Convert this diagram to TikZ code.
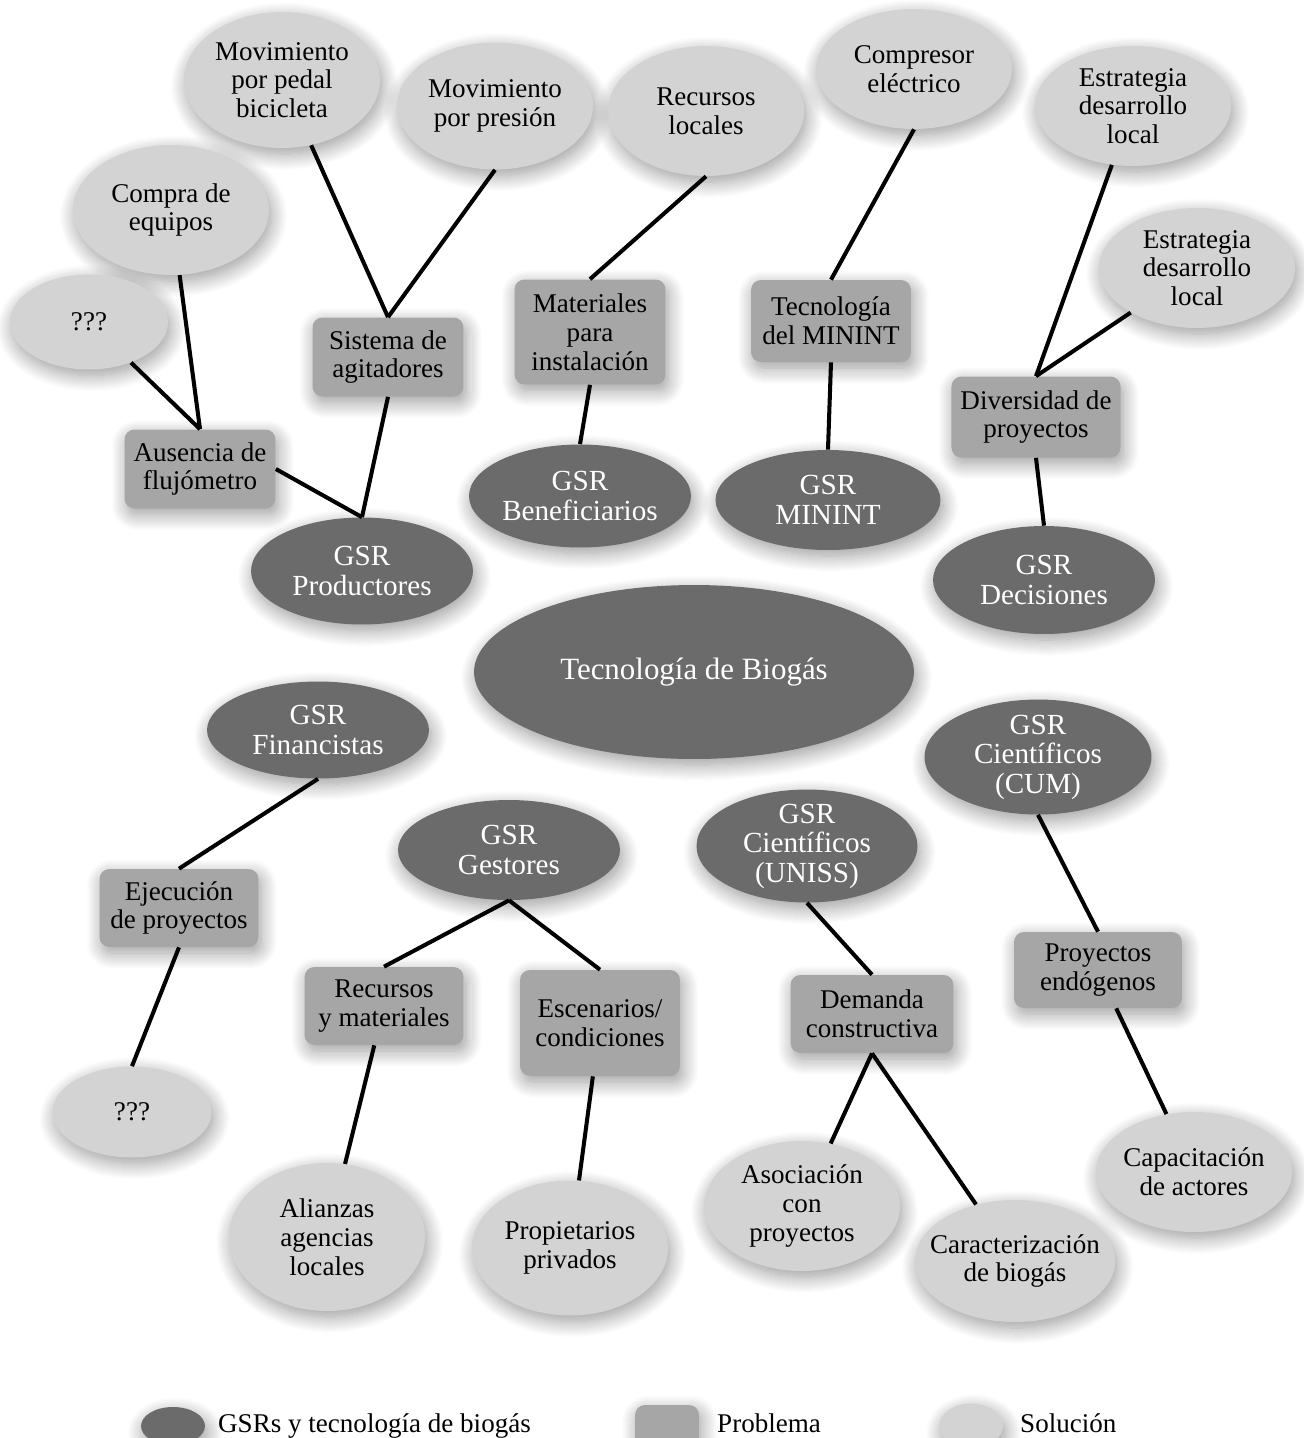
\documentclass[tikz,border=0pt]{standalone}
\usepackage{fontspec}
\setmainfont{Liberation Serif}
\usetikzlibrary{shapes.geometric,shadows.blur}
\definecolor{gsrgray}{HTML}{6B6B6B}
\definecolor{probgray}{HTML}{A6A6A6}
\definecolor{solgray}{HTML}{D3D3D3}
\begin{document}
\begin{tikzpicture}[x=0.02cm,y=-0.02cm]
\useasboundingbox (0,0) rectangle (1303,1438);
\tikzstyle{every node}=[font=\fontsize{15.4}{16.4}\selectfont, align=center];
\tikzstyle{soft}=[blur shadow={shadow xshift=1.5pt, shadow yshift=-3.5pt, shadow blur radius=9pt, shadow blur steps=16, shadow opacity=40}];
\tikzstyle{gsr}=[soft, ellipse, fill=gsrgray, text=white, font=\fontsize{16.6}{16.8}\selectfont, inner sep=0pt, inner ysep=-6pt, minimum width=4.44cm, minimum height=2.04cm];
\tikzstyle{prob}=[soft, rectangle, rounded corners=0.2cm, fill=probgray, inner xsep=0.18cm, inner ysep=0.2cm, minimum width=3.02cm, minimum height=1.58cm];
\tikzstyle{sol}=[soft, ellipse, fill=solgray, inner sep=0pt, minimum width=3.92cm, minimum height=2.48cm];
\tikzstyle{link}=[line width=2.3pt, black];
\node[sol, minimum height=2.72cm] (movped) at (282,80) {Movimiento\\por pedal\\bicicleta};
\node[sol, minimum height=2.54cm] (movpres) at (495,106) {Movimiento\\por presión};
\node[sol, minimum height=2.6cm] (recloc) at (706,111) {Recursos\\locales};
\node[sol, minimum height=2.4cm] (compr) at (914,69) {Compresor\\eléctrico};
\node[sol, minimum height=2.4cm] (estr1) at (1133,106) {Estrategia\\desarrollo\\local};
\node[sol, minimum height=2.4cm] (estr2) at (1197,268) {Estrategia\\desarrollo\\local};
\node[sol, minimum height=2.6cm] (compra) at (171,210) {Compra de\\equipos};
\node[sol, minimum width=3.16cm, minimum height=1.9cm] (qq1) at (89,322) {???};
\node[prob] (ause) at (200,469) {Ausencia de\\flujómetro};
\node[prob] (sist) at (388,357) {Sistema de\\agitadores};
\node[prob, minimum height=2.1cm] (mater) at (590,332) {Materiales\\para\\instalación};
\node[prob, minimum width=3.2cm, minimum height=1.64cm] (tecmin) at (831,321) {Tecnología\\del MININT};
\node[prob, minimum width=3.36cm, minimum height=1.62cm] (diver) at (1036,417) {Diversidad de\\proyectos};
\node[gsr, minimum height=2.14cm] (prod) at (362,571) {GSR\\Productores};
\node[gsr, minimum height=2.06cm] (benef) at (580,496) {GSR\\Beneficiarios};
\node[gsr, minimum width=4.5cm, minimum height=2.0cm] (gmin) at (828,500) {GSR\\MININT};
\node[gsr, minimum height=2.16cm] (decis) at (1044,580) {GSR\\Decisiones};
\node[gsr, font=\fontsize{17.6}{19}\selectfont, minimum width=8.8cm, minimum height=3.48cm] (tecbio) at (694,672) {Tecnología de Biogás};
\node[gsr, minimum height=1.94cm] (finan) at (318,730) {GSR\\Financistas};
\node[gsr, minimum height=2.0cm] (gest) at (509,850) {GSR\\Gestores};
\node[gsr, minimum width=4.42cm, minimum height=2.26cm] (uniss) at (807,846) {GSR\\Científicos\\(UNISS)};
\node[gsr, minimum width=4.54cm, minimum height=2.3cm] (cum) at (1038,757) {GSR\\Científicos\\(CUM)};
\node[prob, minimum width=3.18cm, minimum height=1.56cm] (ejec) at (179,908) {Ejecución\\de proyectos};
\node[prob, minimum width=3.18cm, minimum height=1.56cm] (recmat) at (384,1006) {Recursos\\y materiales};
\node[prob, minimum width=3.2cm, minimum height=2.12cm] (escen) at (600,1023) {Escenarios/\\condiciones};
\node[prob, minimum width=3.26cm, minimum height=1.56cm] (dem) at (872,1014) {Demanda\\constructiva};
\node[prob, minimum width=3.36cm, minimum height=1.52cm] (proyend) at (1098,970) {Proyectos\\endógenos};
\node[sol, minimum width=3.18cm, minimum height=1.82cm] (qq2) at (132,1112) {???};
\node[sol, minimum height=2.96cm] (alian) at (327,1237) {Alianzas\\agencias\\locales};
\node[sol, minimum height=2.7cm] (propi) at (570,1248) {Propietarios\\privados};
\node[sol, minimum height=2.6cm] (asoc) at (802,1206) {Asociación\\con\\proyectos};
\node[sol, inner xsep=-8pt, minimum height=2.44cm] (carac) at (1015,1261) {Caracterización\\de biogás};
\node[sol, inner xsep=-8pt, minimum height=2.4cm] (capac) at (1194,1172) {Capacitación\\de actores};
\draw[link] (compra) -- (ause.north);
\draw[link] (qq1) -- (ause.north);
\draw[link] (ause.east) -- (prod.north);
\draw[link] (sist.south) -- (prod.north);
\draw[link] (movped) -- (sist.north);
\draw[link] (movpres.south) -- (sist.north);
\draw[link] (recloc.south) -- (mater.north);
\draw[link] (mater.south) -- (benef.north);
\draw[link] (compr.south) -- (tecmin.north);
\draw[link] (tecmin.south) -- (gmin.north);
\draw[link] (estr1) -- (diver.north);
\draw[link] (estr2) -- (diver.north);
\draw[link] (diver.south) -- (decis.north);
\draw[link] (finan.south) -- (ejec.north);
\draw[link] (ejec.south) -- (qq2.north);
\draw[link] (gest.south) -- (recmat.north);
\draw[link] (gest.south) -- (escen.north);
\draw[link] (recmat) -- (alian);
\draw[link] (escen) -- (propi);
\draw[link] (uniss.south) -- (dem.north);
\draw[link] (dem.south) -- (asoc);
\draw[link] (dem.south) -- (carac);
\draw[link] (cum.south) -- (proyend.north);
\draw[link] (proyend) -- (capac);
% leyenda
\node[gsr, minimum width=1.28cm, minimum height=0.76cm] (leggsr) at (173,1426) {};
\node[anchor=base west] (leggsrt) at (212,1432) {GSRs y tecnología de biogás};
\node[prob, minimum width=1.28cm, minimum height=0.84cm] (legprob) at (667,1426) {};
\node[anchor=base west] (legprobt) at (711,1432) {Problema};
\node[sol, minimum width=1.28cm, minimum height=0.9cm] (legsol) at (971,1426) {};
\node[anchor=base west] (legsolt) at (1014,1432) {Solución};
\end{tikzpicture}
\end{document}
